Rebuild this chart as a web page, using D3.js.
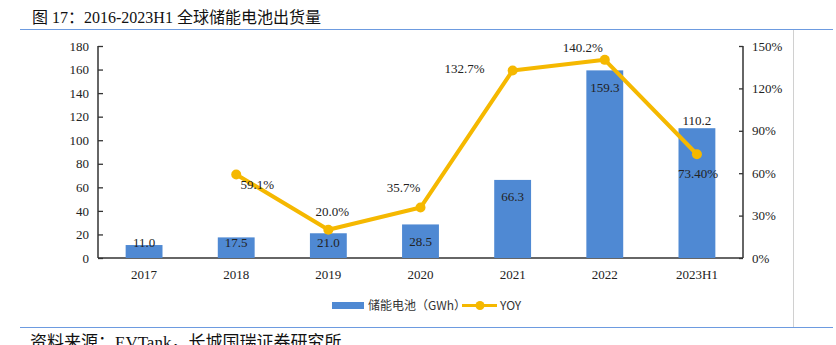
<!DOCTYPE html>
<html>
<head>
<meta charset="utf-8">
<script src="https://cdn.jsdelivr.net/npm/d3@7"></script>
<style>
  body { margin: 0; background: #fff; }
  svg { display: block; }
  .serif { font-family: "Liberation Serif", "Times New Roman", "Noto Sans CJK SC", serif; }
  .sans { font-family: "Noto Sans CJK SC", "Noto Sans", sans-serif; }
</style>
</head>
<body>
<div id="chart"></div>
<script>
// data
const categories = ['2017', '2018', '2019', '2020', '2021', '2022', '2023H1'];
const shipments = [11.0, 17.5, 21.0, 28.5, 66.3, 159.3, 110.2];
const yoy = [null, 59.1, 20.0, 35.7, 132.7, 140.2, 73.4];
const yoyLabels = ['', '59.1%', '20.0%', '35.7%', '132.7%', '140.2%', '73.40%'];
const leftTicks = [0, 20, 40, 60, 80, 100, 120, 140, 160, 180];
const rightTicks = [0, 30, 60, 90, 120, 150];

// label placement (layout only)
const yoyLabelOffset = [[0, 0], [21, 10], [4, -18], [-17, -20], [-48, -2], [-22, -12], [1, 19]];

const W = 836, H = 345;
const margin = {left: 98, right: 93, top: 46, bottom: 87};
const x0 = margin.left, x1 = W - margin.right;
const yTop = margin.top, yBase = H - margin.bottom;

const barColor = '#4f89d3';
const lineColor = '#f5b800';
const ruleColor = '#6d9be0';

const svg = d3.select('#chart').append('svg')
    .attr('width', W)
    .attr('height', H);

// frame rules
svg.append('line')
    .attr('x1', 20).attr('x2', 833).attr('y1', 29.5).attr('y2', 29.5)
    .attr('stroke', ruleColor).attr('stroke-width', 1.2);
svg.append('line')
    .attr('x1', 20).attr('x2', 833).attr('y1', 327.5).attr('y2', 327.5)
    .attr('stroke', ruleColor).attr('stroke-width', 1.2);
svg.append('line')
    .attr('x1', 793.5).attr('x2', 793.5).attr('y1', 30).attr('y2', 327)
    .attr('stroke', '#d0d0d0').attr('stroke-width', 1);

// title + source
svg.append('text').attr('class', 'serif')
    .attr('x', 32).attr('y', 23)
    .attr('font-size', 16).attr('fill', '#111')
    .text('图 17：2016-2023H1 全球储能电池出货量');
svg.append('text').attr('class', 'serif')
    .attr('x', 30).attr('y', 348)
    .attr('font-size', 17).attr('fill', '#111')
    .text('资料来源：EVTank，长城国瑞证券研究所');

// scales
const x = d3.scaleBand().domain(categories).range([x0, x1]).paddingInner(0.6).paddingOuter(0.3);
const y = d3.scaleLinear().domain([0, 180]).range([yBase, yTop]);
const y2 = d3.scaleLinear().domain([0, 150]).range([yBase, yTop]);

// axes
const leftAxis = svg.append('g')
    .attr('class', 'serif')
    .attr('transform', `translate(${x0},0)`)
    .call(d3.axisLeft(y).tickValues(leftTicks).tickSize(-5).tickPadding(9));
const rightAxis = svg.append('g')
    .attr('class', 'serif')
    .attr('transform', `translate(${x1},0)`)
    .call(d3.axisRight(y2).tickValues(rightTicks).tickSize(-4).tickPadding(9).tickFormat(d => d + '%'));
const bottomAxis = svg.append('g')
    .attr('class', 'serif')
    .attr('transform', `translate(0,${yBase})`)
    .call(d3.axisBottom(x).tickSize(0).tickPadding(12));

[leftAxis, rightAxis, bottomAxis].forEach(function (g) {
    g.selectAll('text').attr('font-size', 13).attr('fill', '#222')
        .attr('font-family', '"Liberation Serif", "Times New Roman", serif');
    g.selectAll('line').attr('stroke', '#333').attr('stroke-width', 1.3);
    g.select('.domain').attr('stroke', '#333').attr('stroke-width', 1.5);
});
bottomAxis.select('.domain').attr('d', `M${x0},0H${x1}`);
leftAxis.select('.domain').attr('d', `M0,${yTop}V${yBase}`);
rightAxis.select('.domain').attr('d', `M0,${yTop}V${yBase}`);

// bars
const bars = svg.append('g');
bars.selectAll('rect')
    .data(shipments)
    .join('rect')
    .attr('x', (d, i) => x(categories[i]))
    .attr('width', x.bandwidth())
    .attr('y', d => y(d))
    .attr('height', d => yBase - y(d))
    .attr('fill', barColor);

bars.selectAll('text')
    .data(shipments)
    .join('text')
    .attr('class', 'serif')
    .attr('x', (d, i) => x(categories[i]) + x.bandwidth() / 2)
    .attr('y', function (d, i) {
        if (i === categories.length - 1) return y(d) - 8;
        return Math.min(y(d) + 17, yBase - 16);
    })
    .attr('dy', '0.35em')
    .attr('text-anchor', 'middle')
    .attr('font-size', 13)
    .attr('fill', '#222')
    .text(d => d.toFixed(1));

// yoy line
const pts = yoy.map((v, i) => ({v: v, i: i})).filter(d => d.v !== null);
const line = d3.line()
    .x(d => x(categories[d.i]) + x.bandwidth() / 2)
    .y(d => y2(d.v));

const lineG = svg.append('g');
lineG.append('path')
    .datum(pts)
    .attr('d', line)
    .attr('fill', 'none')
    .attr('stroke', lineColor)
    .attr('stroke-width', 4)
    .attr('stroke-linejoin', 'round');
lineG.selectAll('circle')
    .data(pts)
    .join('circle')
    .attr('cx', d => x(categories[d.i]) + x.bandwidth() / 2)
    .attr('cy', d => y2(d.v))
    .attr('r', 5)
    .attr('fill', lineColor);
lineG.selectAll('text')
    .data(pts)
    .join('text')
    .attr('class', 'serif')
    .attr('x', d => x(categories[d.i]) + x.bandwidth() / 2 + yoyLabelOffset[d.i][0])
    .attr('y', d => y2(d.v) + yoyLabelOffset[d.i][1])
    .attr('dy', '0.35em')
    .attr('text-anchor', 'middle')
    .attr('font-size', 13)
    .attr('fill', '#222')
    .text(d => yoyLabels[d.i]);

// legend
const legend = svg.append('g').attr('class', 'sans').attr('font-size', 12).attr('fill', '#333');
legend.append('rect')
    .attr('x', 332).attr('y', 302).attr('width', 32).attr('height', 7)
    .attr('fill', barColor);
legend.append('text')
    .attr('x', 368).attr('y', 305.5).attr('dy', '0.35em')
    .text('储能电池（GWh）');
legend.append('line')
    .attr('x1', 462).attr('x2', 497).attr('y1', 305.5).attr('y2', 305.5)
    .attr('stroke', lineColor).attr('stroke-width', 3);
legend.append('circle')
    .attr('cx', 480).attr('cy', 305.5).attr('r', 4.5)
    .attr('fill', lineColor);
legend.append('text')
    .attr('x', 500).attr('y', 305.5).attr('dy', '0.35em')
    .text('YOY');
</script>
</body>
</html>
